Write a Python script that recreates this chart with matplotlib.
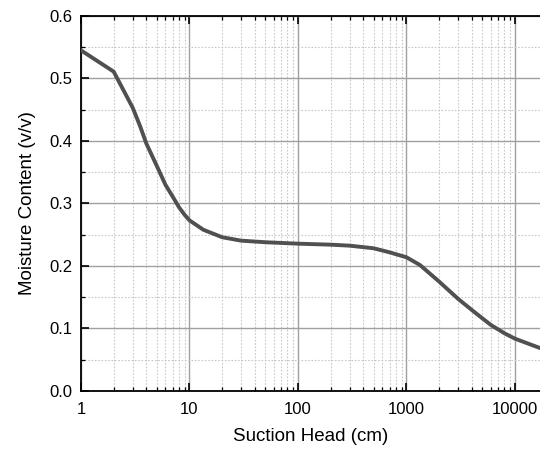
import numpy as np
import matplotlib.pyplot as plt
from matplotlib.ticker import LogLocator, MultipleLocator, FixedFormatter, FixedLocator

# suction head (cm) and moisture content (v/v)
head = [1, 2, 3, 3.5, 4, 5, 6, 7, 8, 9, 10, 13.4, 20, 30, 50, 100, 200, 300,
        500, 700, 1000, 1330, 2000, 3000, 4000, 5000, 6000, 8000, 10000,
        16300, 17500]
theta = [0.545, 0.511, 0.453, 0.424, 0.396, 0.360, 0.330, 0.311, 0.294,
         0.282, 0.273, 0.258, 0.246, 0.2405, 0.238, 0.2357, 0.2341, 0.2325,
         0.2283, 0.2218, 0.2139, 0.2016, 0.175, 0.1472, 0.1296, 0.1163,
         0.1056, 0.0923, 0.0837, 0.0699, 0.068]

xticks = [1, 10, 100, 1000, 10000]
xticklabels = ['1', '10', '100', '1000', '10000']

plt.rcParams['font.family'] = ['Liberation Sans', 'DejaVu Sans']

fig = plt.figure(figsize=(5.4, 4.49), dpi=100)
ax = fig.add_axes([0.15, 0.1292, 0.85, 0.8352])

ax.plot(head, theta, color='#505050', lw=2.8, solid_joinstyle='round', zorder=3)

ax.set_xscale('log')
ax.set_xlim(1, 17000)
ax.set_ylim(0, 0.6)
ax.xaxis.set_major_locator(FixedLocator(xticks))
ax.xaxis.set_major_formatter(FixedFormatter(xticklabels))
ax.xaxis.set_minor_locator(LogLocator(base=10, subs=np.arange(2, 10)))
ax.xaxis.set_minor_formatter(plt.NullFormatter())
ax.yaxis.set_major_locator(MultipleLocator(0.1))
ax.yaxis.set_minor_locator(MultipleLocator(0.05))
ax.yaxis.set_major_formatter(plt.FormatStrFormatter('%.1f'))

ax.grid(which='major', color='#a0a0a0', lw=1.0, ls='-')
ax.grid(which='minor', color='#c8c8c8', lw=0.8, ls=(0, (1.5, 1.5)))
ax.set_axisbelow(True)

ax.tick_params(which='major', direction='in', length=6, width=1.2, top=True,
               labelsize=12, pad=6)
ax.tick_params(which='minor', direction='in', length=3, width=0.9, top=True)
ax.tick_params(axis='x', which='major', pad=8)

for s in ['left', 'bottom', 'top']:
    ax.spines[s].set_linewidth(1.3)
ax.spines['right'].set_visible(False)

ax.set_xlabel('Suction Head (cm)', fontsize=13.5, labelpad=8)
ax.set_ylabel('Moisture Content (v/v)', fontsize=13.5, labelpad=10)

fig.savefig('out.png', dpi=100)
